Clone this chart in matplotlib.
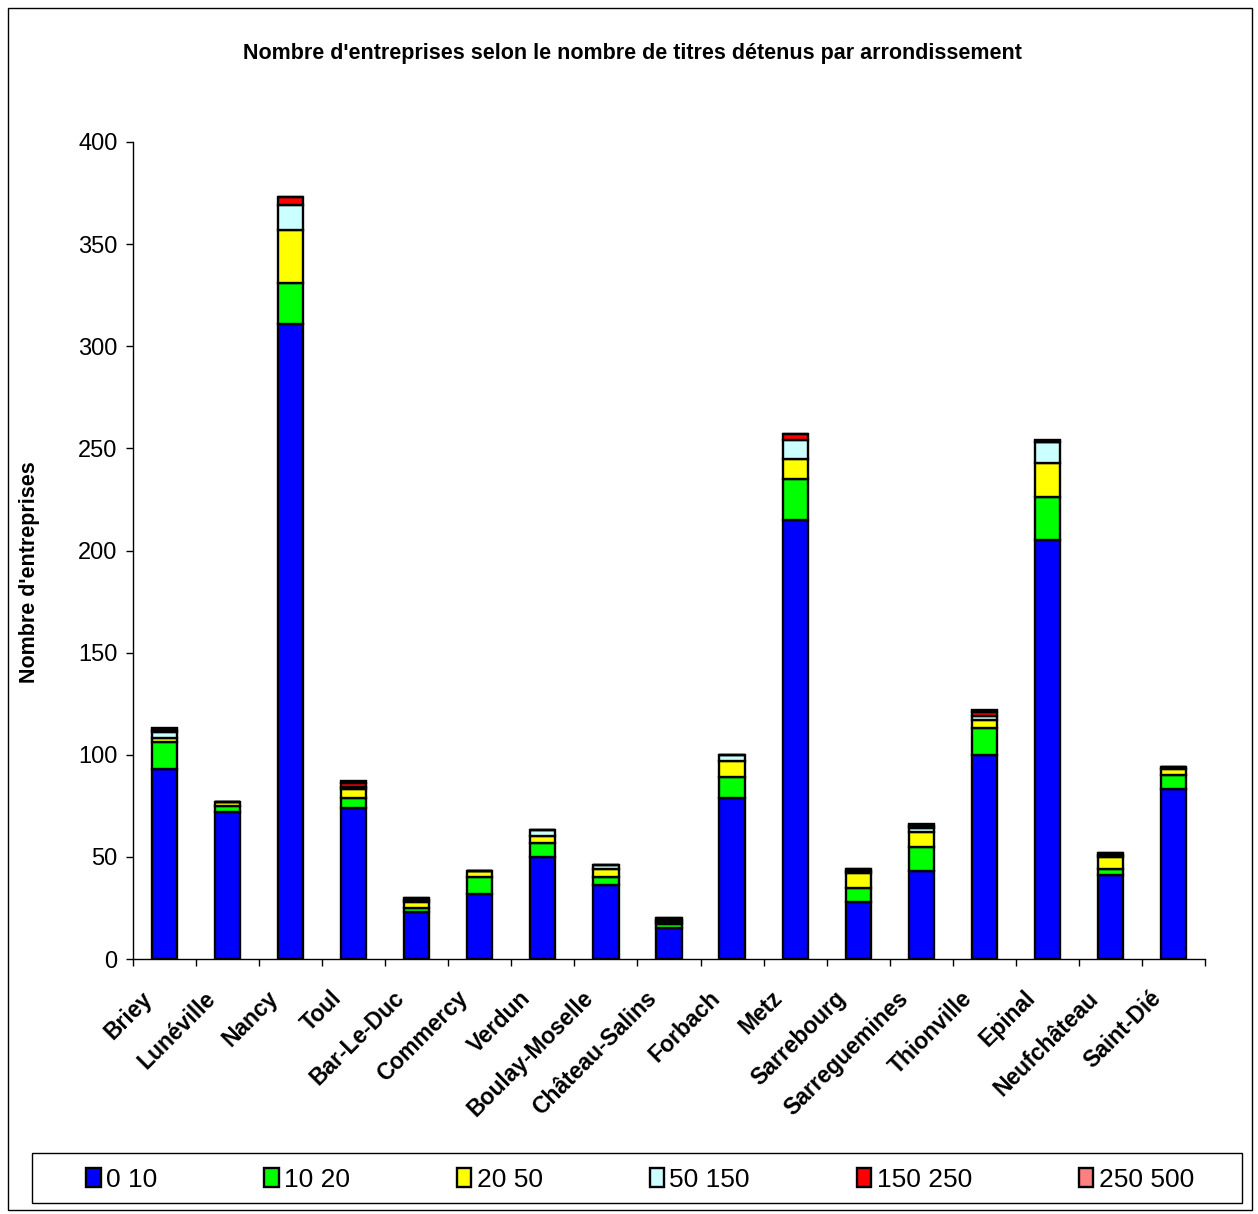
import numpy as np
import matplotlib.pyplot as plt
from matplotlib.patches import Rectangle
from matplotlib.transforms import ScaledTranslation

plt.rcParams['font.family'] = ['Liberation Sans', 'DejaVu Sans']

# arrondissements
arrondissements = ["Briey", "Lunéville", "Nancy", "Toul", "Bar-Le-Duc", "Commercy",
                   "Verdun", "Boulay-Moselle", "Château-Salins", "Forbach", "Metz",
                   "Sarrebourg", "Sarreguemines", "Thionville", "Epinal",
                   "Neufchâteau", "Saint-Dié"]

# nombre d'entreprises par tranche de titres détenus
t_0_10    = [93, 72, 311, 74, 23, 32, 50, 36, 15, 79, 215, 28, 43, 100, 205, 41, 83]
t_10_20   = [13,  3,  20,  5,  2,  8,  7,  4,  2, 10,  20,  7, 12,  13,  21,  3,  7]
t_20_50   = [ 2,  2,  26,  4,  3,  3,  3,  4,  1,  8,  10,  7,  7,   4,  17,  6,  3]
t_50_150  = [ 3,  0,  12,  1,  1,  0,  3,  2,  1,  3,   9,  1,  2,   2,  10,  1,  1]
t_150_250 = [ 1,  0,   4,  2,  1,  0,  0,  0,  1,  0,   3,  1,  1,   2,   0,  1,  0]
t_250_500 = [ 1,  0,   0,  1,  0,  0,  0,  0,  0,  0,   0,  0,  1,   1,   1,  0,  0]

series = [t_0_10, t_10_20, t_20_50, t_50_150, t_150_250, t_250_500]
noms = ["0 10", "10 20", "20 50", "50 150", "150 250", "250 500"]
couleurs = ["#0000FF", "#00FF00", "#FFFF00", "#CCFFFF", "#FF0000", "#FF8080"]

W, H = 1258, 1214
fig = plt.figure(figsize=(W / 100, H / 100), dpi=100)
ax = fig.add_axes([133 / W, 1 - 959 / H, (1205 - 133) / W, (959 - 142) / H])

x = np.arange(len(arrondissements))
bas = np.zeros(len(x))
barres = []
for vals, nom, c in zip(series, noms, couleurs):
    vals = np.array(vals, dtype=float)
    b = ax.bar(x, vals, width=0.4, bottom=bas, color=c, edgecolor="black",
               linewidth=1.7, label=nom)
    barres.append(b)
    bas += vals

ax.set_xlim(-0.5, len(x) - 0.5)
ax.set_ylim(0, 400)
ax.set_yticks(np.arange(0, 401, 50))
ax.tick_params(axis="y", labelsize=17, length=5, width=1, pad=6, direction="out")

ax.set_xticks(x)
ax.set_xticklabels(arrondissements, rotation=45, ha="right", va="top",
                   rotation_mode="anchor", fontsize=16.5, fontweight="bold")
ax.tick_params(axis="x", which="major", length=0, pad=20)
decalage = ScaledTranslation(-0.24, 0, fig.dpi_scale_trans)
for lab in ax.get_xticklabels():
    lab.set_transform(lab.get_transform() + decalage)
ax.set_xticks(np.arange(-0.5, len(x), 1), minor=True)
ax.tick_params(axis="x", which="minor", length=5, width=1, direction="out")

for s in ["top", "right"]:
    ax.spines[s].set_visible(False)
for s in ["left", "bottom"]:
    ax.spines[s].set_linewidth(1)

fig.text(632 / W, 1 - 53 / H,
         "Nombre d'entreprises selon le nombre de titres détenus par arrondissement",
         ha="center", va="center", fontsize=15.5, fontweight="bold")
fig.text(30 / W, 1 - 572 / H, "Nombre d'entreprises", rotation=90,
         ha="center", va="center", fontsize=15.5, fontweight="bold")

# cadre du graphique et de la légende
fig.patches.append(Rectangle((8 / W, 1 - 1210 / H), (1252 - 8) / W, (1210 - 8) / H,
                             transform=fig.transFigure, fill=False,
                             edgecolor="black", linewidth=1))
fig.patches.append(Rectangle((32 / W, 1 - 1203 / H), (1242 - 32) / W, 50 / H,
                             transform=fig.transFigure, fill=False,
                             edgecolor="black", linewidth=1))

fig.legend(handles=barres, labels=noms, ncol=6, mode="expand", frameon=False,
           bbox_to_anchor=(86 / W, 1 - 1192 / H, (1194 - 86) / W, 30 / H),
           loc="lower left", borderaxespad=0, borderpad=0, fontsize=19,
           handlelength=0.55, handleheight=0.75, handletextpad=0.2)

fig.savefig("out.png", dpi=100)
